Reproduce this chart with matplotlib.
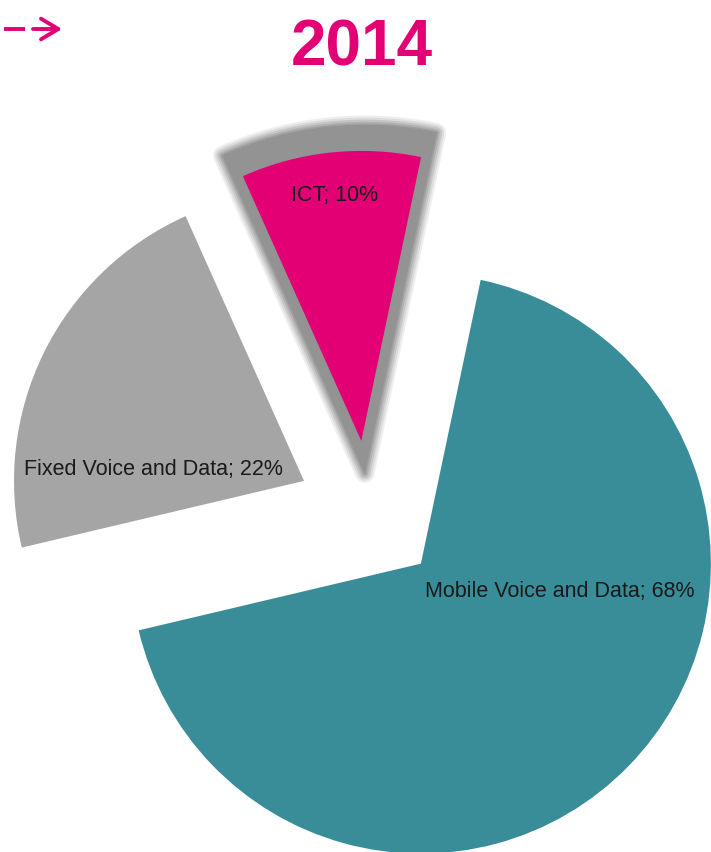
import matplotlib.pyplot as plt
import matplotlib.patheffects as pe
from matplotlib.patches import Wedge
import numpy as np

labels = ['Mobile Voice and Data', 'Fixed Voice and Data', 'ICT']
shares = [68, 22, 10]
colors = ['#388d99', '#a5a5a5', '#e20074']
title = '2014'

W, H = 711, 852
R = 290  # pie radius in pixels

plt.rcParams['font.family'] = ['Liberation Sans', 'DejaVu Sans']

fig = plt.figure(figsize=(W / 100, H / 100), dpi=100)
ax = fig.add_axes([0, 0, 1, 1])

wedges, _ = ax.pie(shares, colors=colors, radius=R, center=(369, H - 513),
                   startangle=78.1, counterclock=False,
                   explode=[0.25 * R] * 3,
                   wedgeprops=dict(linewidth=0))

# grey soft shadow behind the ICT slice (slice scaled up a bit)
ict = wedges[2]
mid = np.deg2rad((ict.theta1 + ict.theta2) / 2)
u = np.array([np.cos(mid), np.sin(mid)])
apex = np.array(ict.center)
s = 1.2
sh_apex = apex - (s - 1) * 0.56 * R * u
glow = '#939393'
shadow = Wedge(sh_apex, s * R, ict.theta1, ict.theta2, facecolor=glow,
               linewidth=0, zorder=ict.get_zorder() - 0.5)
shadow.set_path_effects([
    pe.Stroke(linewidth=14, foreground=glow, alpha=0.15, joinstyle='round'),
    pe.Stroke(linewidth=11, foreground=glow, alpha=0.2, joinstyle='round'),
    pe.Stroke(linewidth=8, foreground=glow, alpha=0.3, joinstyle='round'),
    pe.Stroke(linewidth=5, foreground=glow, alpha=0.4, joinstyle='round'),
    pe.Stroke(linewidth=2.5, foreground=glow, alpha=0.6, joinstyle='round'),
    pe.Normal(),
])
ax.add_patch(shadow)

ax.set_xlim(0, W)
ax.set_ylim(0, H)
ax.set_aspect('equal')
ax.axis('off')

# slice labels
label_pos = [(560, H - 597), (153, H - 475), (335, H - 201)]
for name, val, (x, y) in zip(labels, shares, label_pos):
    ax.text(x, y, f'{name}; {val}%', ha='center', va='baseline',
            fontsize=15.5, color='#1a1a1a')

ax.text(362, H - 65, title, ha='center', va='baseline', fontsize=46,
        fontweight='bold', color='#e20074')

# small arrow top left
ax.plot([4, 25], [H - 29, H - 29], color='#e20074', lw=2.8,
        solid_capstyle='butt')
ax.annotate('', xy=(62, H - 29), xytext=(33, H - 29),
            arrowprops=dict(arrowstyle='->, head_length=0.4, head_width=0.24',
                            color='#e20074', lw=2.8,
                            mutation_scale=31, shrinkA=0, shrinkB=0))

plt.savefig('out.png', dpi=100)
